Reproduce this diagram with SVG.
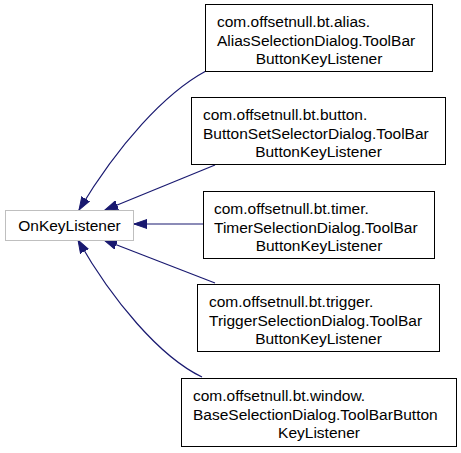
<svg xmlns="http://www.w3.org/2000/svg" width="461" height="453" viewBox="0 0 461 453">
<style>
text{font-family:"Liberation Sans",Arial,sans-serif;font-size:15.5px;fill:#000}
.n{fill:#fff;stroke:#000;stroke-width:1}
.b{fill:#fff;stroke:#bfbfbf;stroke-width:1}
.e{fill:none;stroke:#191970;stroke-width:1.2}
.c{text-anchor:middle}
</style>
<defs>
<marker id="ah" markerUnits="userSpaceOnUse" markerWidth="14" markerHeight="10" refX="13" refY="5" orient="auto">
<path d="M0,0.5 L13,5 L0,9.5 z" fill="#191970" stroke="#191970"/>
</marker>
</defs>
<rect width="461" height="453" fill="#fff"/>
<g id="edges">
<path class="e" d="M206,71 C165,93 118,145 79,210" marker-end="url(#ah)"/>
<path class="e" d="M215,165 L105,210" marker-end="url(#ah)"/>
<path class="e" d="M203,224 L134,224" marker-end="url(#ah)"/>
<path class="e" d="M215,283 L104,240" marker-end="url(#ah)"/>
<path class="e" d="M202,377 C160,357 112,300 78,240" marker-end="url(#ah)"/>
</g>
<g id="OnKeyListener">
<rect class="b" x="5.5" y="210.5" width="128" height="30"/>
<text class="c" x="69.5" y="230.5">OnKeyListener</text>
</g>
<g id="alias">
<rect class="n" x="205.5" y="4.5" width="227" height="67"/>
<text x="217" y="27">com.offsetnull.bt.alias.</text>
<text x="217" y="45.5">AliasSelectionDialog.ToolBar</text>
<text class="c" x="319" y="64">ButtonKeyListener</text>
</g>
<g id="button">
<rect class="n" x="191.5" y="97.5" width="254" height="67"/>
<text x="203" y="120">com.offsetnull.bt.button.</text>
<text x="203" y="138.5">ButtonSetSelectorDialog.ToolBar</text>
<text class="c" x="318.5" y="157">ButtonKeyListener</text>
</g>
<g id="timer">
<rect class="n" x="203.5" y="191.5" width="231" height="67"/>
<text x="214" y="214">com.offsetnull.bt.timer.</text>
<text x="214" y="232.5">TimerSelectionDialog.ToolBar</text>
<text class="c" x="319" y="251">ButtonKeyListener</text>
</g>
<g id="trigger">
<rect class="n" x="197.5" y="284.5" width="242" height="67"/>
<text x="209" y="307">com.offsetnull.bt.trigger.</text>
<text x="209" y="325.5">TriggerSelectionDialog.ToolBar</text>
<text class="c" x="318.5" y="344">ButtonKeyListener</text>
</g>
<g id="window">
<rect class="n" x="181.5" y="378.5" width="275" height="68"/>
<text x="193" y="401">com.offsetnull.bt.window.</text>
<text x="193" y="419.5">BaseSelectionDialog.ToolBarButton</text>
<text class="c" x="319" y="438">KeyListener</text>
</g>
</svg>
